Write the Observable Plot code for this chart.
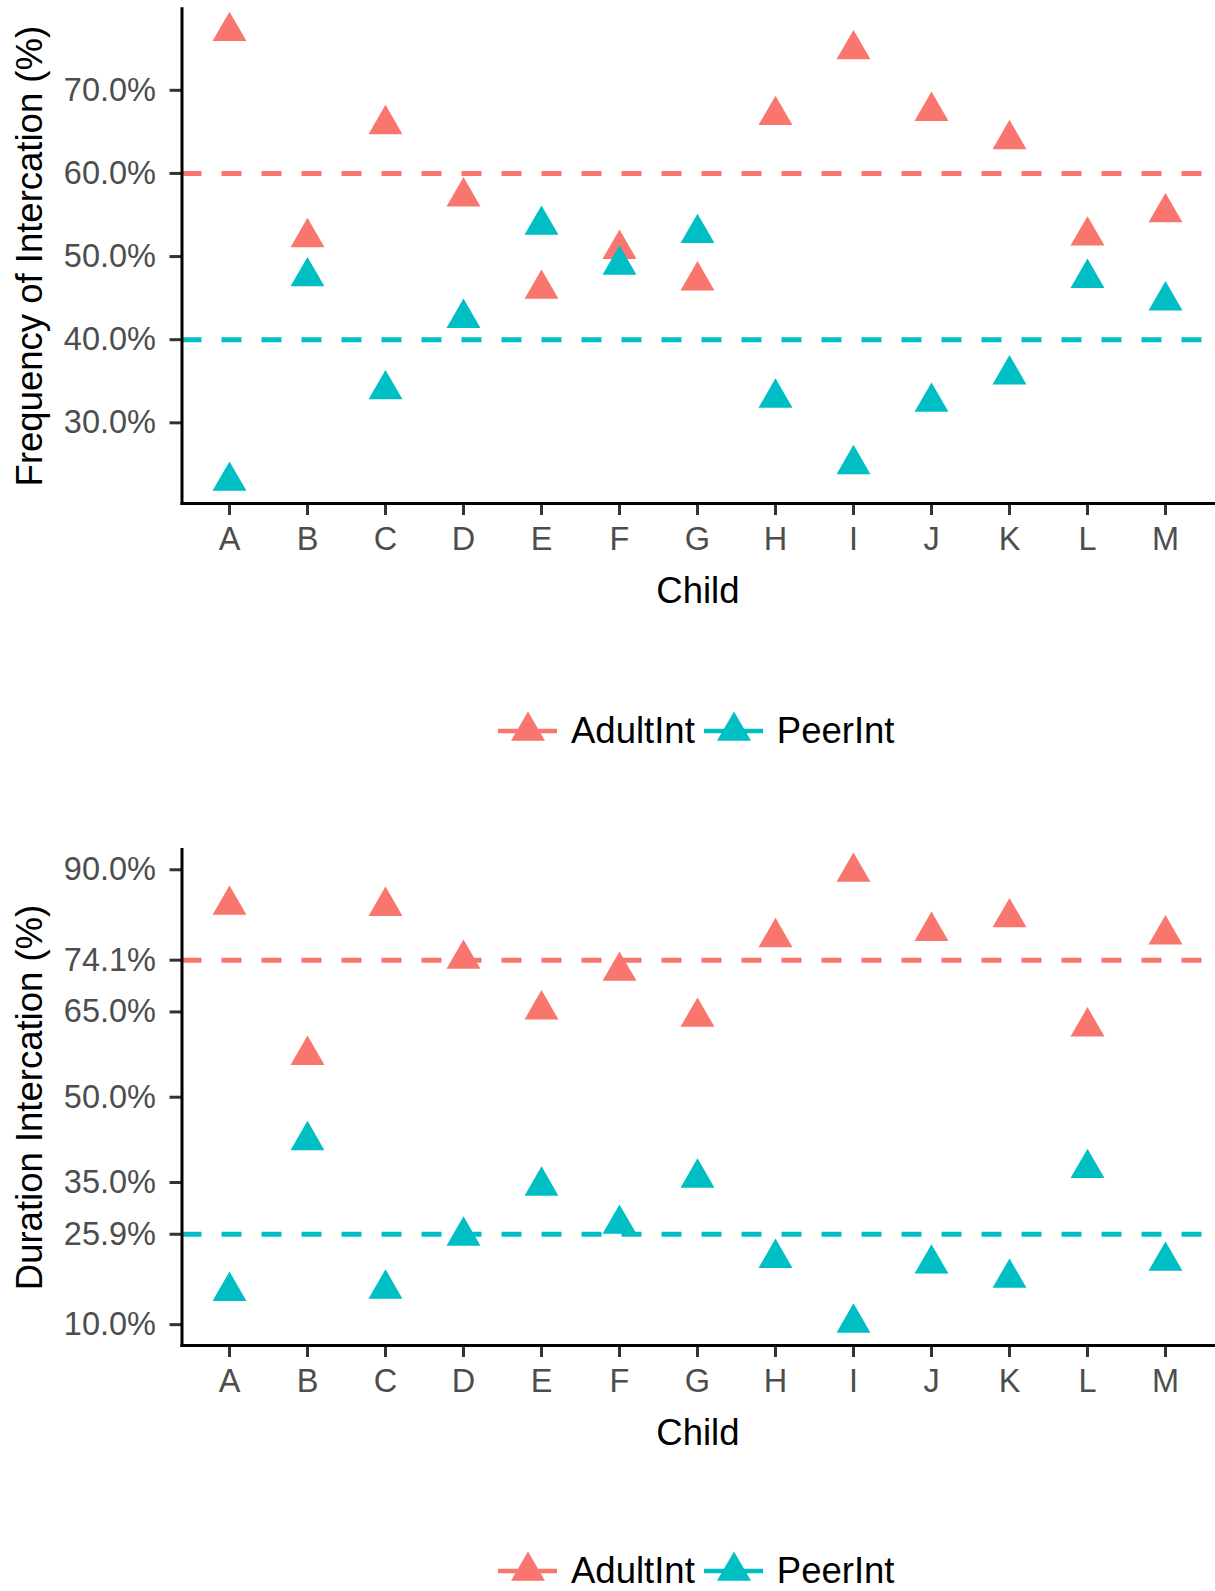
<!DOCTYPE html>
<html><head><meta charset="utf-8">
<script src="https://cdn.jsdelivr.net/npm/d3@7"></script>
<script src="https://cdn.jsdelivr.net/npm/@observablehq/plot@0.6"></script>
<style>
body{margin:0;background:#fff;}
#root{position:relative;width:1215px;height:1591px;overflow:hidden;font-family:"Liberation Sans",Arial,Helvetica,sans-serif;background:#fff;}
.piece{position:absolute;left:0;}
.legend{position:absolute;display:flex;align-items:center;height:50px;}
.legend span{font-size:36.5px;color:#000;white-space:nowrap;}
</style></head><body><div id="root"></div>
<script>
// ---- data ----
const children = ["A","B","C","D","E","F","G","H","I","J","K","L","M"];
const seriesNames = ["AdultInt","PeerInt"];
const seriesColors = ["#F8766D","#00BFC4"];

const freqAdult = [77.1, 52.3, 65.9, 57.2, 46.1, 50.9, 47.1, 67.0, 74.9, 67.5, 64.1, 52.5, 55.3];
const freqPeer  = [23.0, 47.6, 34.0, 42.6, 53.8, 49.0, 52.8, 33.0, 25.0, 32.5, 35.8, 47.4, 44.7];
const freqMeans = [60.0, 40.0];
const freqTicks = [30, 40, 50, 60, 70];

const durAdult = [83.8, 57.4, 83.6, 74.3, 65.4, 72.2, 64.1, 78.1, 89.6, 79.2, 81.6, 62.4, 78.6];
const durPeer  = [15.9, 42.4, 16.3, 25.6, 34.4, 27.7, 35.8, 21.7, 10.3, 20.7, 18.2, 37.5, 21.2];
const durMeans = [74.1, 25.9];
const durTicks = [10, 25.9, 35, 50, 65, 74.1, 90];

const xTitle = "Child";
const freqTitle = "Frequency of Intercation (%)";
const durTitle = "Duration Intercation (%)";

const FONT = '"Liberation Sans", Arial, Helvetica, sans-serif';
const R = 12.6;
const root = d3.select("#root");

function panel({adult, peer, means, ticks, yLabel, top, height, panelTop, panelBottom}) {
  const rows = children.flatMap((c, i) => [
    {child: c, series: seriesNames[0], value: adult[i]},
    {child: c, series: seriesNames[1], value: peer[i]}
  ]);
  const [lo, hi] = d3.extent(rows, d => d.value);
  const pad = (hi - lo) * 0.05;
  const meanRows = seriesNames.map((s, i) => ({series: s, value: means[i]}));
  const marginLeft = 181.5;
  const chart = Plot.plot({
    width: 1215,
    height,
    marginTop: panelTop - top,
    marginBottom: top + height - panelBottom,
    marginLeft,
    marginRight: 1.7,
    style: {fontFamily: FONT, fontSize: "32.5px", background: "white", overflow: "visible"},
    x: {type: "point", domain: children, padding: 0.6},
    y: {domain: [lo - pad, hi + pad]},
    color: {domain: seriesNames, range: seriesColors},
    marks: [
      Plot.ruleY(meanRows, {y: "value", stroke: "series", strokeWidth: 5, strokeDasharray: "20,20"}),
      Plot.dot(rows, {x: "child", y: "value", fill: "series", symbol: "triangle", r: R}),
      Plot.axisX({tickSize: 12, tickPadding: 11, stroke: "#333333", strokeWidth: 3, fill: "#4D4D4D", label: null}),
      Plot.axisY({ticks, tickFormat: d => d.toFixed(1) + "%", tickSize: 12, tickPadding: 14,
                  stroke: "#333333", strokeWidth: 3, fill: "#4D4D4D", label: null}),
      Plot.frame({anchor: "left", stroke: "black", strokeWidth: 3}),
      Plot.frame({anchor: "bottom", stroke: "black", strokeWidth: 3}),
      Plot.text([xTitle], {text: d => d, frameAnchor: "bottom", dy: 99.7, lineAnchor: "bottom",
                           textAnchor: "middle", fontSize: 36.5, fill: "black"}),
      Plot.text([yLabel], {text: d => d, frameAnchor: "left", dx: 41.7 - marginLeft, rotate: -90,
                           textAnchor: "middle", lineAnchor: "bottom", fontSize: 36.5, fill: "black"})
    ]
  });
  d3.select(chart).attr("class", "piece").style("top", top + "px").style("position", "absolute");
  root.node().appendChild(chart);
}

function legend(top) {
  const div = root.append("div").attr("class", "legend").style("top", top + "px").style("left", "498px");
  seriesNames.forEach((s, i) => {
    const svg = div.append("svg").attr("width", 59).attr("height", 50)
      .style("margin-left", i ? "9px" : "0px").style("flex", "none");
    svg.append("line").attr("x1", 0).attr("x2", 59).attr("y1", 25).attr("y2", 25)
      .attr("stroke", seriesColors[i]).attr("stroke-width", 4.5).attr("stroke-dasharray", "20,20");
    svg.append("path").attr("d", d3.symbol(d3.symbolTriangle, Math.PI * R * R)())
      .attr("transform", "translate(30,25)").attr("fill", seriesColors[i]);
    div.append("span").text(s).style("margin-left", "14px");
  });
}

panel({adult: freqAdult, peer: freqPeer, means: freqMeans, ticks: freqTicks, yLabel: freqTitle,
       top: 0, height: 625, panelTop: 8.3, panelBottom: 503});
legend(706);
panel({adult: durAdult, peer: durPeer, means: durMeans, ticks: durTicks, yLabel: durTitle,
       top: 780, height: 680, panelTop: 849, panelBottom: 1345});
legend(1546);
</script>
</body></html>
